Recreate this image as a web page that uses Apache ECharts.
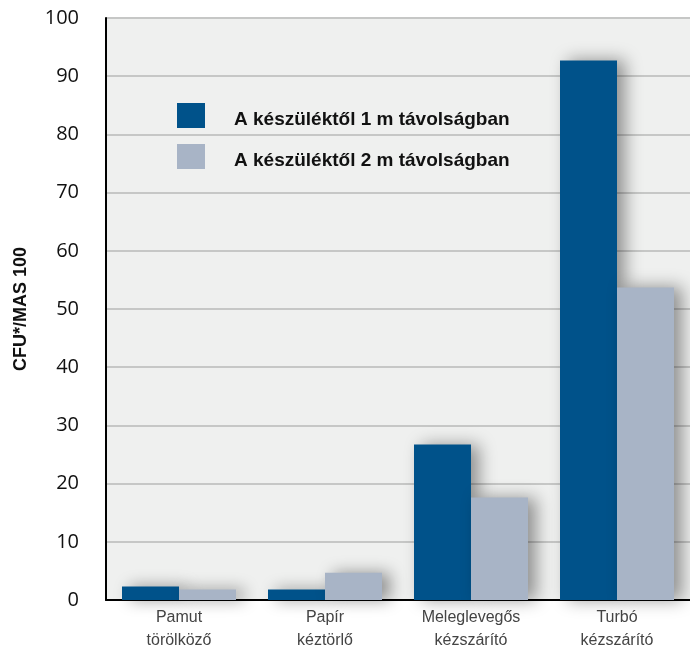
<!DOCTYPE html>
<html>
<head>
<meta charset="utf-8">
<script src="https://cdn.jsdelivr.net/npm/echarts@6/dist/echarts.min.js"></script>
<style>
  html, body { margin: 0; padding: 0; background: #fff; }
  #chart { width: 690px; height: 649px; }
</style>
</head>
<body>
<div id="chart"></div>
<script>
const categories = ['Pamut\ntörölköző', 'Papír\nkéztörlő', 'Meleglevegős\nkézszárító', 'Turbó\nkézszárító']
const seriesNames = ['A készüléktől 1 m távolságban', 'A készüléktől 2 m távolságban']
const values1m = [2.3, 1.8, 26.7, 92.7]
const values2m = [1.8, 4.7, 17.6, 53.7]
const yTicks = { min: 0, max: 100, interval: 10 }

const colors = ['#00528a', '#a8b4c6']

const barShadow = {
  shadowBlur: 16,
  shadowColor: 'rgba(0,0,0,0.4)',
  shadowOffsetX: 8,
  shadowOffsetY: 0,
}

const chart = echarts.init(document.getElementById('chart'))

chart.setOption({
  animation: false,
  backgroundColor: '#ffffff',
  grid: {
    left: 106,
    right: 0,
    top: 18,
    bottom: 49,
    outerBoundsMode: 'none',
    show: true,
    backgroundColor: '#eff0ef',
    borderWidth: 0,
  },
  legend: {
    orient: 'vertical',
    left: 177,
    top: 103,
    padding: 0,
    icon: 'rect',
    itemWidth: 28,
    itemHeight: 25,
    itemGap: 15,
    data: seriesNames,
    formatter: '{t|{name}}',
    textStyle: {
      padding: [0, 0, 0, 24],
      rich: {
        t: {
          fontFamily: 'Liberation Sans, Arial, sans-serif',
          fontWeight: 'bold',
          fontSize: 19,
          color: '#111',
          padding: [8, 0, 0, 0],
        },
      },
    },
  },
  xAxis: {
    type: 'category',
    data: categories,
    axisLine: { lineStyle: { color: '#000', width: 2 } },
    axisTick: { show: false },
    axisLabel: {
      margin: 6,
      fontFamily: 'Liberation Sans, Arial, sans-serif',
      fontSize: 16,
      lineHeight: 23,
      color: '#444',
    },
  },
  yAxis: {
    type: 'value',
    min: yTicks.min,
    max: yTicks.max,
    interval: yTicks.interval,
    name: 'CFU*/MAS 100',
    nameLocation: 'middle',
    nameGap: 76,
    nameTextStyle: {
      fontFamily: 'Liberation Sans, Arial, sans-serif',
      fontWeight: 'bold',
      fontSize: 18,
      color: '#111',
    },
    axisLine: { show: true, lineStyle: { color: '#000', width: 2 } },
    axisTick: { show: false },
    axisLabel: {
      margin: 27,
      fontFamily: 'Open Sans, Liberation Sans, sans-serif',
      fontSize: 20,
      color: '#111',
    },
    splitLine: { lineStyle: { color: '#c6c7c6', width: 2 } },
  },
  series: [
    {
      name: seriesNames[0],
      type: 'bar',
      data: values1m,
      barWidth: 57,
      barGap: '0%',
      itemStyle: Object.assign({ color: colors[0] }, barShadow),
    },
    {
      name: seriesNames[1],
      type: 'bar',
      data: values2m,
      barWidth: 57,
      itemStyle: Object.assign({ color: colors[1] }, barShadow),
    },
  ],
})
</script>
</body>
</html>
